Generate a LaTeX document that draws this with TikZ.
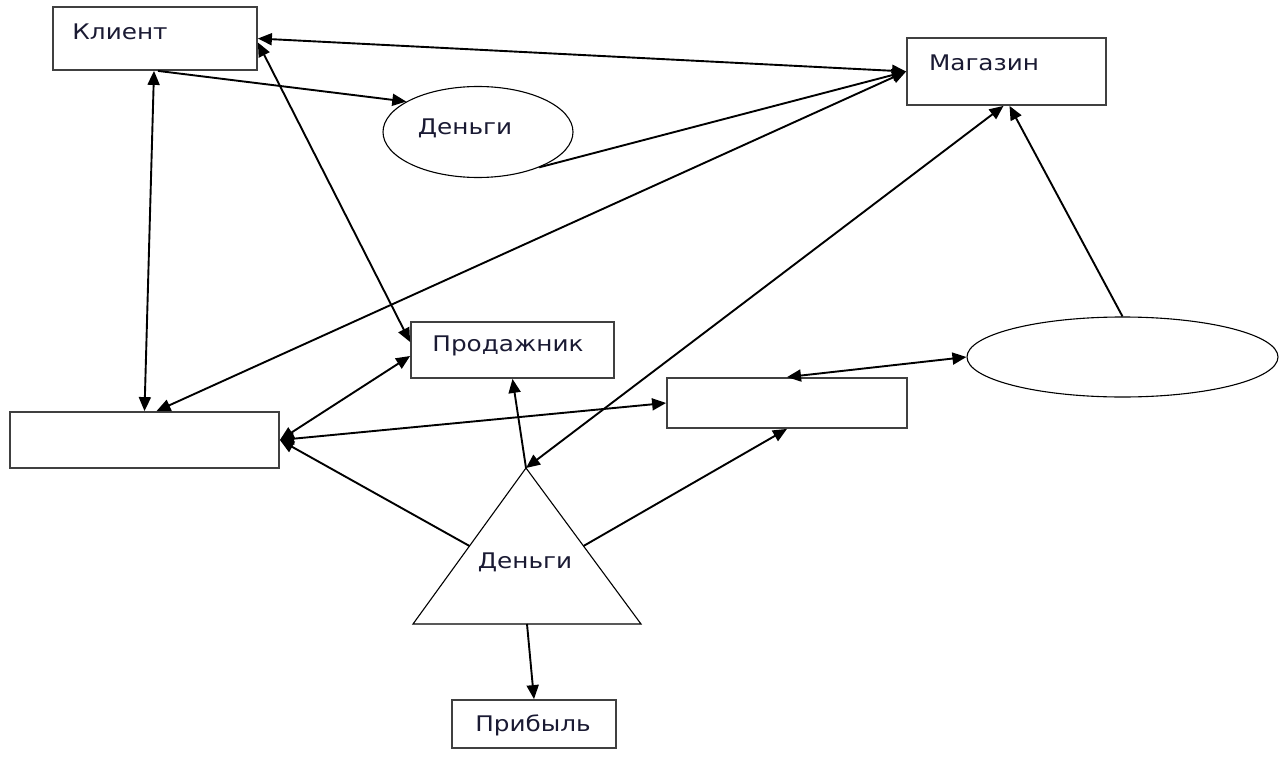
\documentclass[tikz,border=0pt]{standalone}
\usepackage{fontspec}
\newfontfamily\lbl[FakeStretch=1.15]{DejaVu Sans}
\usetikzlibrary{arrows.meta,shapes.geometric,calc}
\definecolor{txtc}{HTML}{1A1A33}
\definecolor{bordc}{HTML}{404040}
\begin{document}
\begin{tikzpicture}[x=1pt,y=-1pt,
  box/.style={draw=bordc,line width=1.8pt,fill=white,rectangle,inner sep=0pt},
  oval/.style={draw=black,line width=1.1pt,ellipse,inner sep=0pt},
  txt/.style={font=\lbl\fontsize{21.5}{25}\selectfont,text=txtc,inner sep=0pt},
  conn/.style={line width=1.9pt,draw=black},
  >={Triangle[length=14pt,width=12pt]}]
\useasboundingbox[fill=white] (0,0) rectangle (1287,757);

% nodes
\node[box,minimum width=204pt,minimum height=63pt] (klient) at (155,38.5) {};
\node[txt] (klientT) at (120,32) {Клиент};
\node[box,minimum width=199pt,minimum height=67pt] (magazin) at (1006.5,71.5) {};
\node[txt] (magazinT) at (984,63) {Магазин};
\node[oval,minimum width=190pt,minimum height=91pt] (dengi) at (478,132) {};
\node[txt] (dengiT) at (465,128) {Деньги};
\node[box,minimum width=203pt,minimum height=56pt] (prod) at (512.5,350) {};
\node[txt] (prodT) at (508,346) {Продажник};
\node[box,minimum width=269pt,minimum height=56pt] (left) at (144.5,440) {};
\node[box,minimum width=240pt,minimum height=50pt] (mid) at (787,403) {};
\node[oval,minimum width=311pt,minimum height=80pt] (oval) at (1122.5,357) {};
\coordinate (tA) at (526,468);
\coordinate (tL) at (413,624);
\coordinate (tR) at (641,624);
\draw[line width=1.1pt] (tA) -- (tL) -- (tR) -- cycle;
\node[txt] (tri) at (525,562) {Деньги};
\node[box,minimum width=164pt,minimum height=48pt] (prib) at (534,724) {};
\node[txt] (pribT) at (533,725) {Прибыль};

% connectors
\draw[conn,<->] (klient.east) -- (magazin.west);
\draw[conn,->] ([xshift=3pt]klient.south) -- (dengi.157);
\draw[conn,<->] ([xshift=-1pt]klient.south) -- (left.north);
\draw[conn,<->] ([yshift=-4pt]klient.east) -- ([yshift=8pt]prod.west);
\draw[conn,->] (dengi.-30) -- (magazin.west);
\draw[conn,<->] ([xshift=12pt]left.north) -- (magazin.west);
\draw[conn,<->] (left.east) -- ([yshift=-6pt]prod.west);
\draw[conn,<->] (left.east) -- (mid.west);
\draw[conn,->] ($(tA)!0.5!(tL)$) -- (left.east);
\draw[conn,->] (tA) -- (prod.south);
\draw[conn,<->] (tA) -- ([xshift=-3pt]magazin.south);
\draw[conn,->] (oval.north) -- ([xshift=3pt]magazin.south);
\draw[conn,<->] (mid.north) -- (oval.west);
\draw[conn,->] ($(tA)!0.5!(tR)$) -- (mid.south);
\draw[conn,->] ($(tL)!0.5!(tR)$) -- (prib.north);
\end{tikzpicture}
\end{document}
